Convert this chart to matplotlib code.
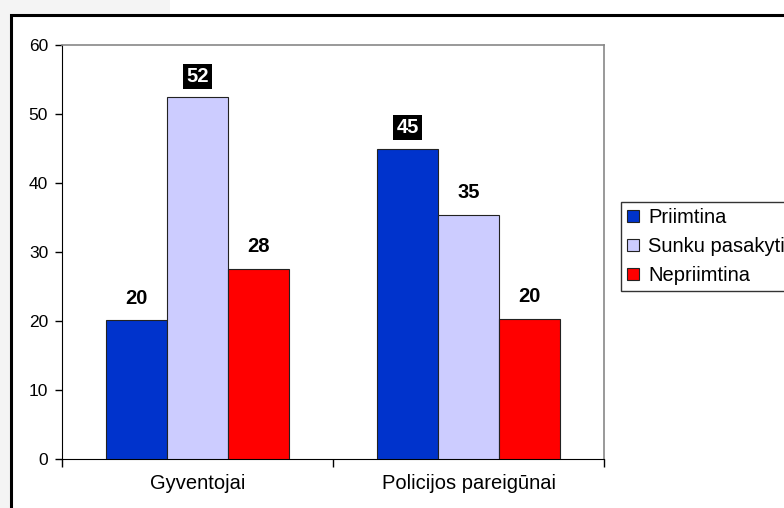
import numpy as np
import matplotlib
matplotlib.use('Agg')
import matplotlib.pyplot as plt
from matplotlib.patches import Rectangle

plt.rcParams['font.family'] = ['Liberation Sans', 'DejaVu Sans']

# data
categories = ['Gyventojai', 'Policijos pareigūnai']
series_names = ['Priimtina', 'Sunku pasakyti', 'Nepriimtina']
priimtina = [20.1, 45.0]
sunku = [52.4, 35.4]
nepriimtina = [27.6, 20.3]
value_labels = [['20', '45'], ['52', '35'], ['28', '20']]
highlighted = [[False, True], [True, False], [False, False]]

colors = ['#0033CC', '#CCCCFF', '#FF0000']

fig = plt.figure(figsize=(7.84, 5.08), dpi=100)
fig.patch.set_facecolor('white')

# light background strips and the outer chart frame
fig.patches.append(Rectangle((0, 0), 10 / 784, 1, transform=fig.transFigure,
                             facecolor='#f4f4f4', edgecolor='none', zorder=0))
fig.patches.append(Rectangle((0, 1 - 14 / 508), 170 / 784, 14 / 508, transform=fig.transFigure,
                             facecolor='#f4f4f4', edgecolor='none', zorder=0))
fig.patches.append(Rectangle((11 / 784, -0.05), 1.0, 1 - 15 / 508 + 0.05, transform=fig.transFigure,
                             facecolor='white', edgecolor='black', linewidth=2.2, zorder=1))

ax = fig.add_axes([62 / 784, 49 / 508, 542 / 784, 414 / 508])
ax.set_zorder(2)

x = np.arange(len(categories)) + 0.5
w = 0.225
all_series = [priimtina, sunku, nepriimtina]
for i, (vals, name) in enumerate(zip(all_series, series_names)):
    pos = x + (i - 1) * w
    ax.bar(pos, vals, width=w, color=colors[i], edgecolor='#222222',
           linewidth=0.8, label=name, zorder=3)
    for j, v in enumerate(vals):
        if highlighted[i][j]:
            ax.annotate(value_labels[i][j], (pos[j], v), xytext=(0, 8),
                        textcoords='offset points', ha='center', va='bottom',
                        fontsize=14.5, fontweight='bold', color='white',
                        bbox=dict(boxstyle='square,pad=0.15', facecolor='black',
                                  edgecolor='none'))
        else:
            ax.annotate(value_labels[i][j], (pos[j], v), xytext=(0, 9),
                        textcoords='offset points', ha='center', va='bottom',
                        fontsize=14.5, fontweight='bold', color='black')

ax.set_xlim(0, 2)
ax.set_ylim(0, 60)
ax.set_yticks(range(0, 61, 10))
ax.tick_params(axis='y', direction='out', length=5, width=1, labelsize=12.5, pad=5)

ax.set_xticks([0, 1, 2])
ax.set_xticklabels([])
ax.set_xticks(x, minor=True)
ax.set_xticklabels(categories, minor=True, fontsize=14.5)
ax.tick_params(axis='x', which='major', direction='out', length=6, width=1)
ax.tick_params(axis='x', which='minor', length=0, pad=11)

ax.spines['top'].set_color('#888888')
ax.spines['right'].set_color('#888888')
ax.spines['left'].set_color('black')
ax.spines['bottom'].set_color('black')
ax.spines['top'].set_linewidth(1.2)
ax.spines['right'].set_linewidth(1.2)

leg = fig.legend(loc='upper left', bbox_to_anchor=(621 / 784, 1 - 202 / 508),
                 fontsize=14.5, frameon=True, fancybox=False, handlelength=0.6,
                 handleheight=0.6, handletextpad=0.45, borderpad=0.3,
                 labelspacing=0.5, borderaxespad=0)
leg.get_frame().set_edgecolor('black')
leg.get_frame().set_linewidth(1)
leg.set_zorder(5)

fig.savefig('out.png', dpi=100)
